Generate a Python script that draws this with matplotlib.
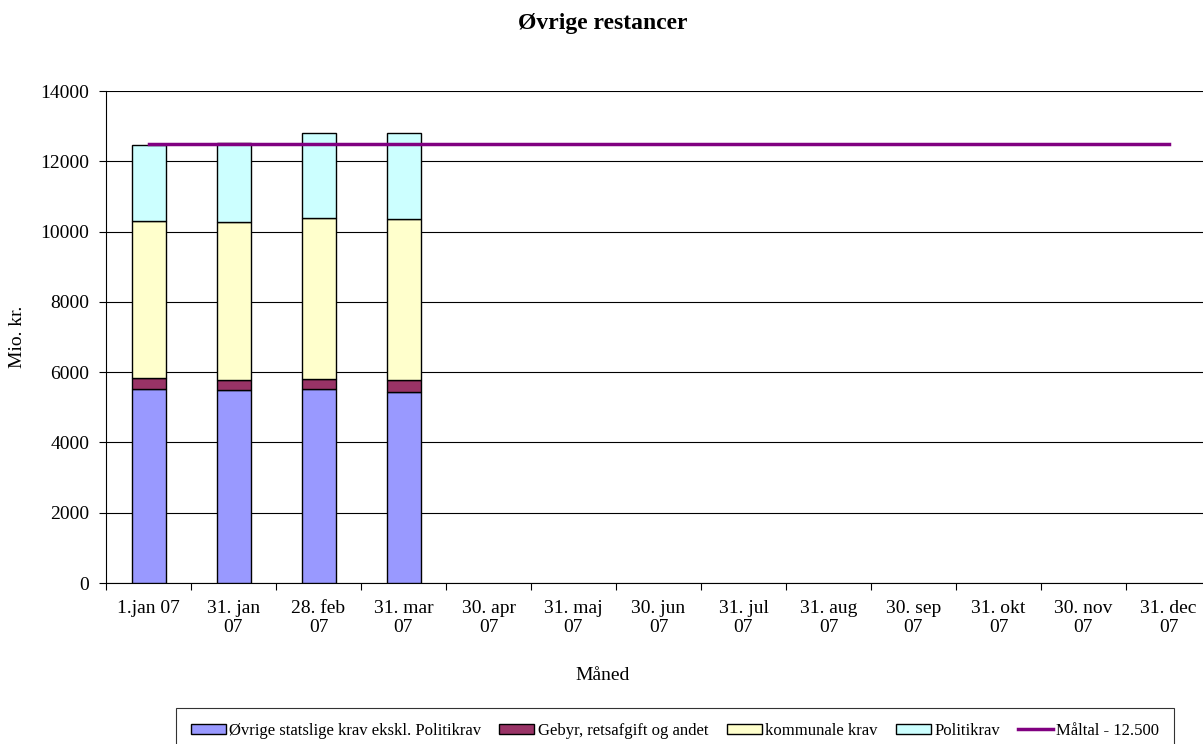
import matplotlib.pyplot as plt
import numpy as np

plt.rcParams["font.family"] = ["Liberation Serif", "DejaVu Serif"]

months = ["1.jan 07", "31. jan\n07", "28. feb\n07", "31. mar\n07", "30. apr\n07",
          "31. maj\n07", "30. jun\n07", "31. jul\n07", "31. aug\n07", "30. sep\n07",
          "31. okt\n07", "30. nov\n07", "31. dec\n07"]

statslige = [5510, 5480, 5510, 5430]
gebyr = [310, 290, 285, 340]
kommunale = [4490, 4510, 4600, 4600]
politi = [2160, 2250, 2415, 2445]
maaltal = [12500] * len(months)

W, H = 1203, 744
fig = plt.figure(figsize=(W / 100, H / 100), dpi=100)
# plot area runs a bit past the right edge of the canvas
left, right, top, bot = 106, 1211, 91, 583
ax = fig.add_axes([left / W, 1 - bot / H, (right - left) / W, (bot - top) / H])

x = np.arange(len(months))
n = len(statslige)
kw = dict(width=0.4, edgecolor="black", linewidth=1.0, zorder=3)

bottom = np.zeros(n)
ax.bar(x[:n], statslige, bottom=bottom, color="#9999ff",
       label="Øvrige statslige krav ekskl. Politikrav", **kw)
bottom += statslige
ax.bar(x[:n], gebyr, bottom=bottom, color="#993366",
       label="Gebyr, retsafgift og andet", **kw)
bottom += gebyr
ax.bar(x[:n], kommunale, bottom=bottom, color="#ffffcc",
       label="kommunale krav", **kw)
bottom += kommunale
ax.bar(x[:n], politi, bottom=bottom, color="#ccffff",
       label="Politikrav", **kw)

ax.plot(x, maaltal, color="#800080", linewidth=2.5, zorder=4, label="Måltal - 12.500")

ax.set_xlim(-0.5, len(months) - 0.5)
ax.set_ylim(0, 14000)
ax.set_yticks(range(0, 14001, 2000))
ax.set_xticks(np.arange(len(months) + 1) - 0.5)
ax.set_xticklabels([])
ax.set_xticks(x, minor=True)
ax.set_xticklabels(months, minor=True, fontsize=14, linespacing=1.15)
ax.tick_params(axis="x", which="minor", length=0, pad=12)
ax.tick_params(axis="x", which="major", length=5, direction="out")
ax.tick_params(axis="y", labelsize=14, length=5, pad=7)

ax.grid(axis="y", color="black", linewidth=0.8, zorder=0)
ax.spines["top"].set_visible(False)
ax.spines["right"].set_visible(False)

ax.set_ylabel("Mio. kr.", fontsize=14, va="center")
ax.yaxis.set_label_coords((18 - left) / (right - left), 0.5)
ax.set_xlabel("Måned", fontsize=14)
ax.xaxis.set_label_coords((603 - left) / (right - left), -(676 - bot) / (bot - top))
ax.xaxis.label.set_va("center")

fig.text(603 / W, 1 - 23 / H, "Øvrige restancer", ha="center", va="center",
         fontsize=17, fontweight="bold")

handles, labels = ax.get_legend_handles_labels()
order = [1, 2, 3, 4, 0]
leg = fig.legend([handles[i] for i in order], [labels[i] for i in order],
                 loc="upper center", bbox_to_anchor=(675 / W, 1 - 708 / H), ncol=5,
                 fontsize=12, frameon=True, fancybox=False, edgecolor="black",
                 handlelength=2.1, handleheight=0.6, columnspacing=1.1,
                 handletextpad=0.2, borderpad=0.9, borderaxespad=0)
leg.get_frame().set_linewidth(0.8)

fig.savefig("out.png", dpi=100)
